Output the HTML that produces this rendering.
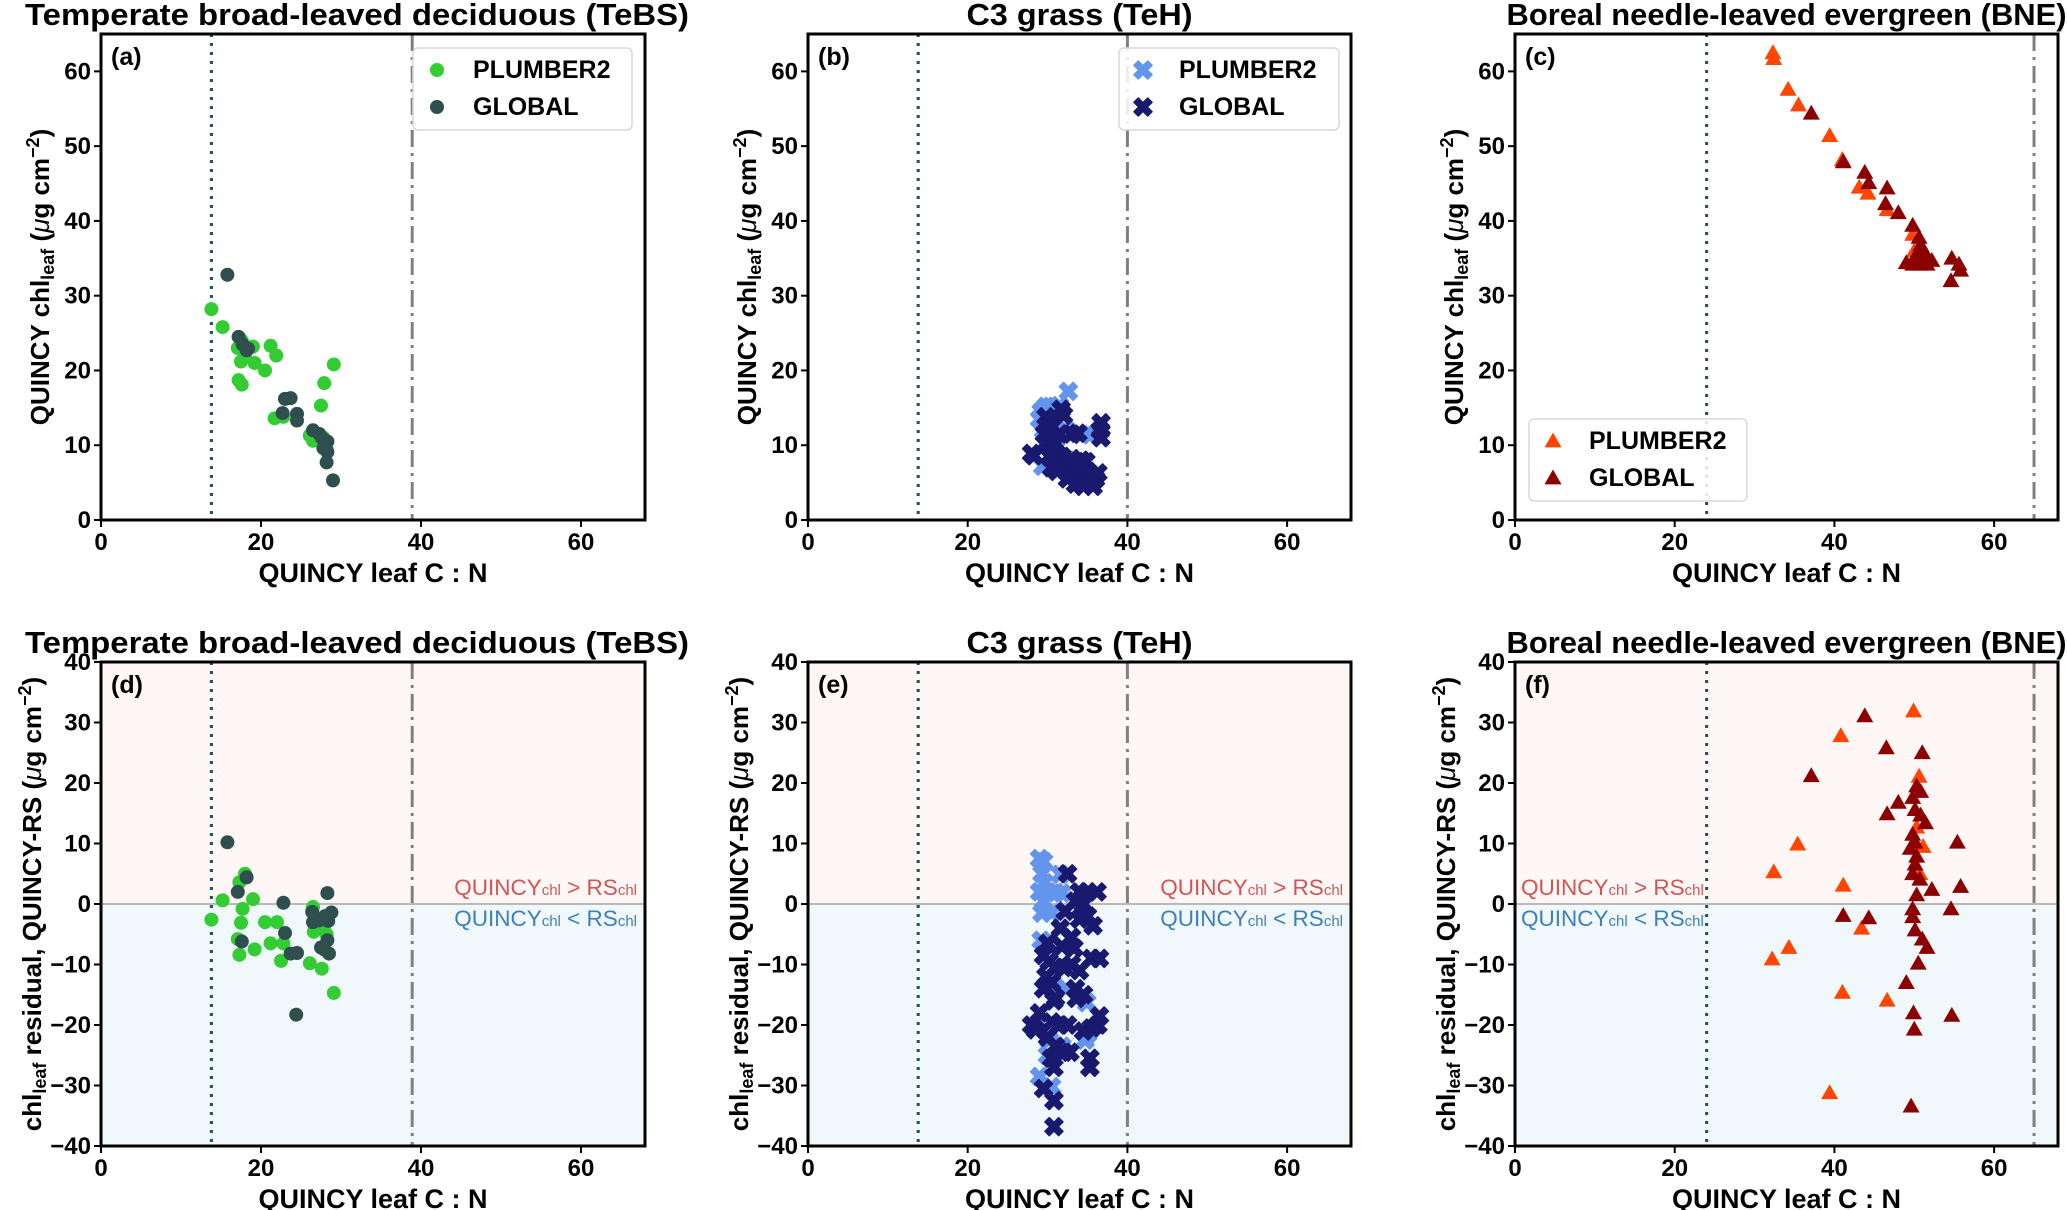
<!DOCTYPE html>
<html><head><meta charset="utf-8">
<style>
html,body{margin:0;padding:0;background:#fff;}
svg{display:block;font-family:"Liberation Sans",sans-serif;font-weight:bold;}
</style></head>
<body>
<svg id="fig" width="2067" height="1210" viewBox="0 0 2067 1210" xmlns="http://www.w3.org/2000/svg"></svg>
<script>
// ---- data ----
const xTicks = [0, 20, 40, 60];
const yTicksTop = [0, 10, 20, 30, 40, 50, 60];
const yTicksBot = [-40, -30, -20, -10, 0, 10, 20, 30, 40];

const tebsPlumberX = [13.8,15.2,17.1,17.6,17.5,18,19,19.2,17.2,17.6,20.5,21.2,21.9,21.7,22.8,26.1,26.5,27.5,27.9,29.1,27.8,28.2];
const tebsPlumberY = [28.2,25.8,23,24,21.2,21.8,23.2,21,18.7,18.1,20,23.3,22,13.6,13.8,11.3,10.6,15.3,18.3,20.8,11,9.5];
const tebsGlobalX = [15.8,17.2,17.7,18.2,18.4,23,23.7,22.7,24.5,24.5,26.5,27.3,28.3,27.8,28.3,28.2,29,27.6];
const tebsGlobalY = [32.8,24.5,23.5,22.7,22.9,16.2,16.3,14.3,14.2,13.3,12,11.5,10.5,9.6,9.1,7.7,5.3,11];

const tebsResPlumberX = [13.8,15.2,17.3,18.0,17.7,19.0,17.1,17.5,17.3,19.2,20.5,22.0,21.2,22.8,22.5,26.1,26.5,26.6,27.6,27.9,29.1,28.2];
const tebsResPlumberY = [-2.6,0.6,3.6,5,-0.8,0.8,-5.8,-3.1,-8.4,-7.5,-3.0,-3.0,-6.5,-6.5,-9.4,-9.8,-0.5,-4.6,-10.7,-3.5,-14.7,-5];
const tebsResGlobalX = [15.8,18.2,17.1,17.6,22.8,23.0,23.7,24.5,24.4,26.4,26.5,27.3,28.3,28.0,28.8,28.4,27.5,28.3,28.5,27.9];
const tebsResGlobalY = [10.2,4.4,2,-6.2,0.2,-4.8,-8.2,-8.1,-18.3,-1.3,-3.0,-2.7,1.8,-2.0,-1.4,-2.8,-7.2,-6.0,-8.2,-7.5];

const tehPlumberX = [29.2,29.8,30.4,32.6,31.5,32.2,35,34.2,29.4,29.0,29.5,30,31,32.5,33,34,35.5];
const tehPlumberY = [14.5,15.2,15.2,17.2,15.3,12.2,11.6,11.4,7.2,13.5,12,11,9.5,8,6.5,5.5,6];
const tehGlobalX = [28,28.3,29.8,30.2,30.6,29.6,30,30.8,31,31.7,32,31.5,33,33.8,36.7,36.6,36.7,31.8,32.2,32.8,33.5,34,34.8,35,35.5,36,36.3,33.5,34.5,35.7,32.5,31.2,30.5,34.2,33,30.2];
const tehGlobalY = [8.9,8.6,13.8,13,12.5,11.5,10.5,10,9,14.8,14,11.5,11.5,11.6,13,12,11,8.5,7.5,7,6.5,6,7.8,6.5,5,5.5,6.3,4.8,4.5,4.5,5.5,6.5,7,8,8.2,8.5];

const tehResPlumberX = [29,29.5,29.3,29.6,29,30,31,31.8,29.5,29.3,30.5,31.6,29.2,32.3,34.9,34.7,35,30.2,31.8,29,30.5,30];
const tehResPlumberY = [7.5,7,5,3.5,2,2,1.9,1.8,0.5,-1.5,-1.5,4.9,-6,-14,-16.3,-22.5,-21.5,-22.5,-23.5,-28.5,-30.2,-25];
const tehResGlobalX = [32.5,34,35,36.2,33.5,34.5,32.2,34,35,35.7,31.6,31.8,33,33.3,30,29.5,30.2,35.5,36.5,31,32,33,34,29.8,30.5,29.5,31,33.5,34.5,33.6,30.8,36.5,36.3,29,28,28.5,30.5,31.5,32.5,34.5,35.5,30,31,32,32.8,35.3,35.3,30.5,30.8,29.5,30.8,30.8];
const tehResGlobalY = [5,2,2,2,0.5,0,-1.2,-2.5,-2,-3.6,-4,-7,-5.5,-7.3,-6.5,-8.5,-9.5,-9,-9,-10.5,-10.5,-10,-11,-12,-13,-14,-15.5,-14,-15,-15.6,-16,-18.5,-20,-18,-20,-20.8,-19.5,-20,-20,-21,-20.5,-22,-23.5,-24.5,-24.5,-25.5,-27,-25.5,-27,-30.5,-32.5,-36.8];

const bnePlumberX = [32.3,32.4,34.2,35.5,39.4,41,43.1,44.2,46.6,49.8,50];
const bnePlumberY = [62.5,61.7,57.6,55.5,51.4,48.2,44.5,43.7,41.5,38.2,36];
const bneGlobalX = [37.1,41.1,43.8,44.3,46.6,46.4,48,49.8,49,49.8,50.6,50.8,51.1,50.3,51.4,50.6,51.6,52.2,54.7,55.6,55.8,54.6,50];
const bneGlobalY = [54.4,47.9,46.5,45.1,44.4,42.3,41.1,39.4,34.4,34.2,37.8,36.8,36.2,35.5,35.2,34.2,34.2,34.7,35,34.2,33.4,32,35];

const bneResPlumberX = [49.9,40.8,50.6,35.4,32.4,41.1,51.1,43.4,34.3,32.2,41,46.6,39.4,50.3,50.7];
const bneResPlumberY = [31.9,27.8,21.1,9.9,5.3,3.1,9.5,-4,-7.2,-9.1,-14.6,-15.9,-31.2,12.7,5];
const bneResGlobalX = [43.8,46.5,51,37.1,48,46.6,50.3,50.8,49.8,50.1,50.8,51.4,49.8,50.1,49.5,50.3,50.1,49.8,50.7,50.3,52.2,55.8,55.4,54.6,49.8,49.8,50.1,41.1,44.3,51,51.6,50.5,49,49.9,54.7,50,49.6];
const bneResGlobalY = [31.1,25.8,25,21.2,16.8,14.9,19.5,18.6,17.6,15.6,14.7,13.4,11.5,10.2,9.2,7.9,6.6,5,4.1,1.5,2.4,2.9,10.2,-0.8,-0.8,-2.1,-4.3,-1.9,-2.3,-5.8,-7.2,-9.8,-13,-18,-18.4,-20.7,-33.4];

// ---- drawing ----
const NS = 'http://www.w3.org/2000/svg';
const svg = document.getElementById('fig');
function mk(tag, attrs, parent, text) {
  const e = document.createElementNS(NS, tag);
  for (const k in attrs) e.setAttribute(k, attrs[k]);
  if (text !== undefined) e.textContent = text;
  (parent || svg).appendChild(e);
  return e;
}

const cols = [{l:101,r:645},{l:808,r:1351},{l:1515,r:2058}];
const rows = [{t:34,b:520,ymin:0,ymax:65,ticks:yTicksTop},{t:662,b:1146,ymin:-40,ymax:40,ticks:yTicksBot}];
const XMAX = 68;

function marker(g, shape, cx, cy, color) {
  let m;
  if (shape === 'circle') {
    m = mk('circle', {cx:cx, cy:cy, r:7, fill:color}, g);
  } else if (shape === 'x') {
    const a = 4.3, b = 9;
    const d = `M${cx-b+a},${cy-b} L${cx},${cy-a} L${cx+b-a},${cy-b} L${cx+b},${cy-b+a} L${cx+a},${cy} L${cx+b},${cy+b-a} L${cx+b-a},${cy+b} L${cx},${cy+a} L${cx-b+a},${cy+b} L${cx-b},${cy+b-a} L${cx-a},${cy} L${cx-b},${cy-b+a} Z`;
    m = mk('path', {d:d, fill:color, stroke:color, 'stroke-width':1.5, 'stroke-linejoin':'round'}, g);
  } else {
    const s = 8.5;
    m = mk('path', {d:`M${cx},${cy-s} L${cx+s},${cy+s*0.75} L${cx-s},${cy+s*0.75} Z`, fill:color}, g);
  }
  
  
  return m;
}

const panels = [
  {c:0,r:0,letter:'(a)',title:'Temperate broad-leaved deciduous (TeBS)',tl:664,tdx:-16,shape:'circle',c1:'#33cc33',c2:'#2f4f4f',px:tebsPlumberX,py:tebsPlumberY,gx:tebsGlobalX,gy:tebsGlobalY,dot:13.8,dd:38.9,legend:{x:413,y:48,w:219,h:82}},
  {c:1,r:0,letter:'(b)',title:'C3 grass (TeH)',tl:226,tdx:0,shape:'x',c1:'#6495ed',c2:'#191970',px:tehPlumberX,py:tehPlumberY,gx:tehGlobalX,gy:tehGlobalY,dot:13.8,dd:40,legend:{x:1119,y:48,w:220,h:82}},
  {c:2,r:0,letter:'(c)',title:'Boreal needle-leaved evergreen (BNE)',tl:560,tdx:0,shape:'tri',c1:'#ff4500',c2:'#8b0000',px:bnePlumberX,py:bnePlumberY,gx:bneGlobalX,gy:bneGlobalY,dot:24,dd:65,legend:{x:1529,y:419,w:218,h:82}},
  {c:0,r:1,letter:'(d)',title:'Temperate broad-leaved deciduous (TeBS)',tl:664,tdx:-16,shape:'circle',c1:'#33cc33',c2:'#2f4f4f',px:tebsResPlumberX,py:tebsResPlumberY,gx:tebsResGlobalX,gy:tebsResGlobalY,dot:13.8,dd:38.9,ann:'right'},
  {c:1,r:1,letter:'(e)',title:'C3 grass (TeH)',tl:226,tdx:0,shape:'x',c1:'#6495ed',c2:'#191970',px:tehResPlumberX,py:tehResPlumberY,gx:tehResGlobalX,gy:tehResGlobalY,dot:13.8,dd:40,ann:'right'},
  {c:2,r:1,letter:'(f)',title:'Boreal needle-leaved evergreen (BNE)',tl:560,tdx:0,shape:'tri',c1:'#ff4500',c2:'#8b0000',px:bneResPlumberX,py:bneResPlumberY,gx:bneResGlobalX,gy:bneResGlobalY,dot:24,dd:65,ann:'left'}
];

panels.forEach((p, i) => {
  const C = cols[p.c], R = rows[p.r];
  const xs = v => C.l + (v / XMAX) * (C.r - C.l);
  const ys = v => R.b - (v - R.ymin) / (R.ymax - R.ymin) * (R.b - R.t);
  const g = mk('g', {});
  
  
  const cx = (C.l + C.r) / 2;

  if (p.r === 1) {
    mk('rect', {x:C.l, y:R.t, width:C.r-C.l, height:ys(0)-R.t, fill:'#fff6f6',  }, g);
    mk('rect', {x:C.l, y:ys(0), width:C.r-C.l, height:R.b-ys(0), fill:'#f1f8fc',  }, g);
    mk('line', {x1:C.l, x2:C.r, y1:ys(0), y2:ys(0), stroke:'#b0b0b0', 'stroke-width':1.8,  }, g);
  }
  mk('line', {x1:xs(p.dot), x2:xs(p.dot), y1:R.t, y2:R.b, stroke:'#1f4f55', 'stroke-width':3, 'stroke-dasharray':'3 6',  }, g);
  mk('line', {x1:xs(p.dd), x2:xs(p.dd), y1:R.t, y2:R.b, stroke:'#808080', 'stroke-width':3, 'stroke-dasharray':'17 6 3 6',  }, g);

  if (p.ann) {
    const ax = p.ann === 'right' ? C.r - 8 : C.l + 6;
    const anchor = p.ann === 'right' ? 'end' : 'start';
    const t1 = mk('text', {x:ax, y:ys(0)-9, 'font-size':22.5, fill:'#d05656', 'text-anchor':anchor, 'font-weight':'normal',  }, g);
    t1.innerHTML = 'QUINCY<tspan font-size="15">chl</tspan> &gt; RS<tspan font-size="15">chl</tspan>';
    const t2 = mk('text', {x:ax, y:ys(0)+22, 'font-size':22.5, fill:'#3c7fba', 'text-anchor':anchor, 'font-weight':'normal',  }, g);
    t2.innerHTML = 'QUINCY<tspan font-size="15">chl</tspan> &lt; RS<tspan font-size="15">chl</tspan>';
  }

  const gp = mk('g', {}, g);
  
  
  p.px.forEach((v, k) => marker(gp, p.shape, xs(v), ys(p.py[k]), p.c1));
  const gg = mk('g', {}, g);
  
  
  p.gx.forEach((v, k) => marker(gg, p.shape, xs(v), ys(p.gy[k]), p.c2));

  mk('rect', {x:C.l, y:R.t, width:C.r-C.l, height:R.b-R.t, fill:'none', stroke:'#000', 'stroke-width':3,  }, g);

  xTicks.forEach(t => {
    mk('line', {x1:xs(t), x2:xs(t), y1:R.b, y2:R.b+7, stroke:'#000', 'stroke-width':2}, g);
    const tl = mk('text', {x:xs(t), y:R.b+30, 'font-size':24, 'text-anchor':'middle'}, g, String(t));
    
    
  });
  R.ticks.forEach(t => {
    mk('line', {x1:C.l-7, x2:C.l, y1:ys(t), y2:ys(t), stroke:'#000', 'stroke-width':2}, g);
    const tl = mk('text', {x:C.l-10, y:ys(t)+8, 'font-size':24, 'text-anchor':'end'}, g, t < 0 ? '\u2212' + Math.abs(t) : String(t));
    
    
  });

  mk('text', {x:C.l+10, y:R.t+31, 'font-size':25,  }, g, p.letter);
  mk('text', {x:cx+p.tdx, y:R.t-9, 'font-size':31, 'text-anchor':'middle', textLength:p.tl, lengthAdjust:'spacingAndGlyphs',  }, g, p.title);
  mk('text', {x:cx, y:R.b+62, 'font-size':27, 'text-anchor':'middle',  }, g, 'QUINCY leaf C : N');
  const yl = mk('text', {'font-size':26, 'text-anchor':'middle', transform:`translate(${C.l-(p.r===0?52:60)},${(R.t+R.b)/2}) rotate(-90)`,  }, g);
  if (p.r === 0) {
    yl.innerHTML = 'QUINCY chl<tspan font-size="18" dy="5">leaf</tspan><tspan dy="-5"> (</tspan><tspan font-style="italic" font-weight="normal">μ</tspan>g cm<tspan font-size="18" dy="-10">−2</tspan><tspan dy="10">)</tspan>';
  } else {
    yl.innerHTML = 'chl<tspan font-size="18" dy="5">leaf</tspan><tspan dy="-5"> residual,  QUINCY-RS (</tspan><tspan font-style="italic" font-weight="normal">μ</tspan>g cm<tspan font-size="18" dy="-10">−2</tspan><tspan dy="10">)</tspan>';
  }

  if (p.legend) {
    const L = p.legend;
    const lg = mk('g', {}, g);
    
    
    mk('rect', {x:L.x, y:L.y, width:L.w, height:L.h, rx:5, fill:'#fff', 'fill-opacity':0.85, stroke:'#d8d8d8', 'stroke-width':1.5}, lg);
    marker(lg, p.shape, L.x+24, L.y+22, p.c1);
    marker(lg, p.shape, L.x+24, L.y+59, p.c2);
    const e1 = mk('text', {x:L.x+60, y:L.y+30, 'font-size':25}, lg, 'PLUMBER2');
    
    
    const e2 = mk('text', {x:L.x+60, y:L.y+67, 'font-size':25}, lg, 'GLOBAL');
    
    
  }
});
</script>
</body></html>
